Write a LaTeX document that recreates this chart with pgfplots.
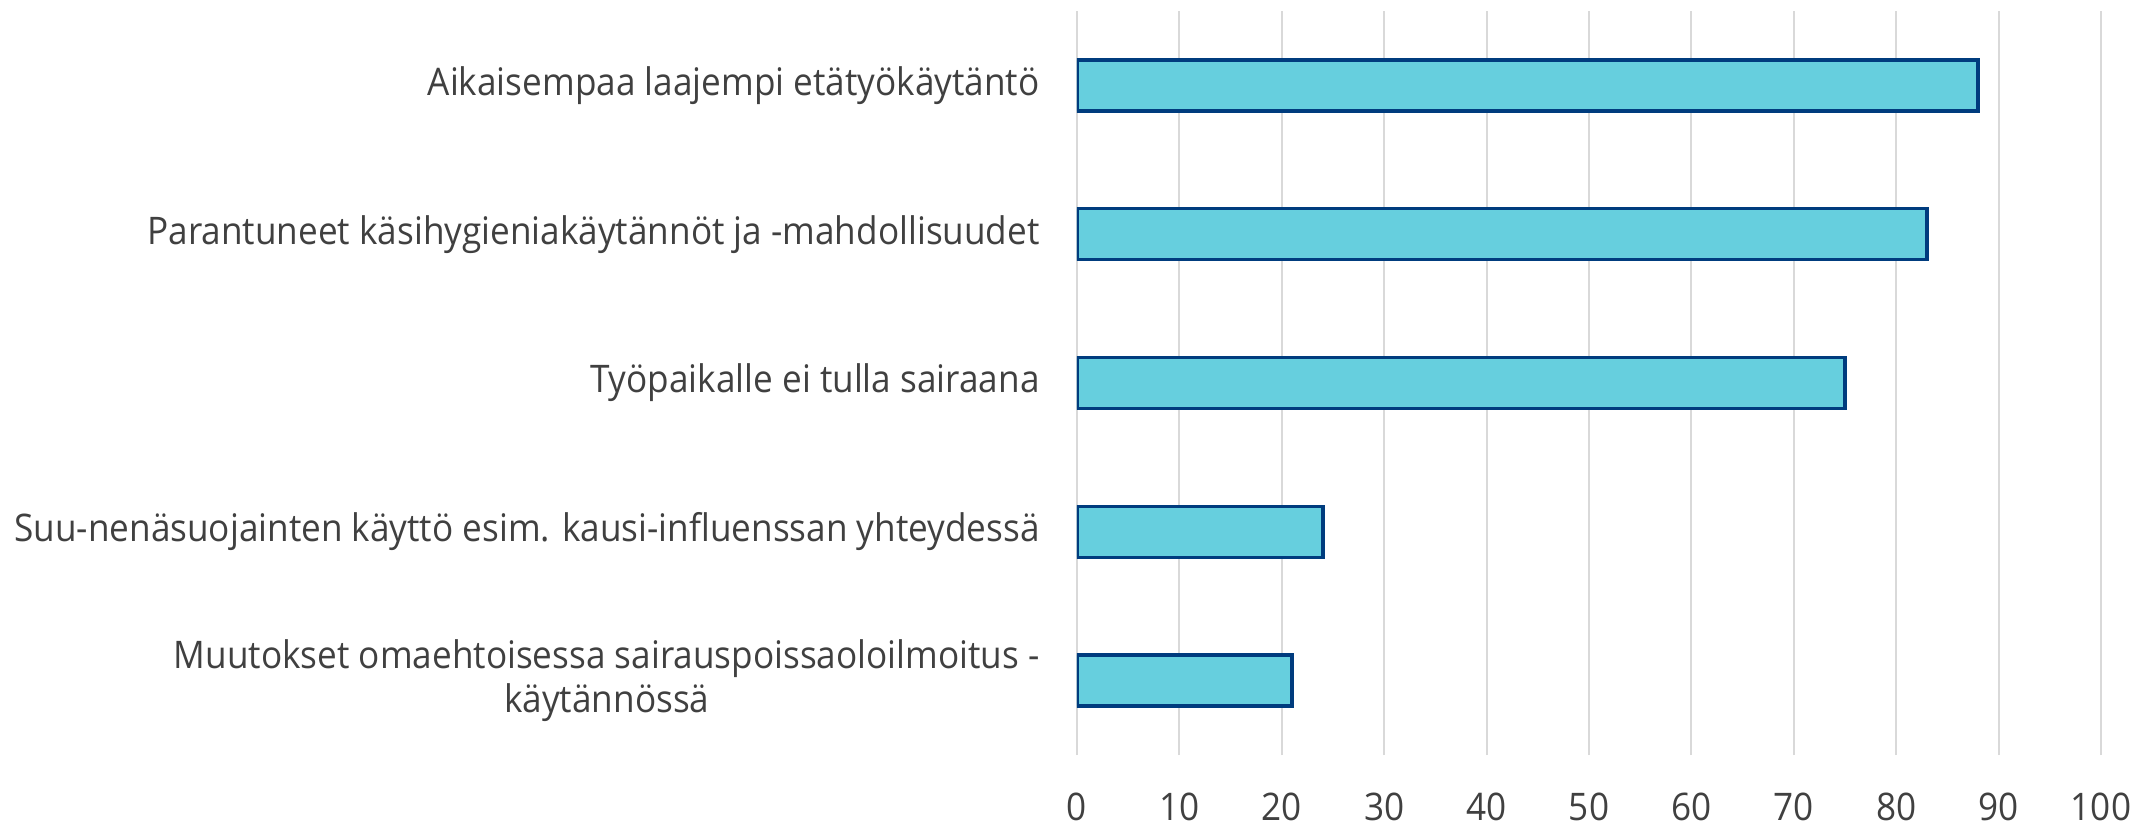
\documentclass[border=0pt]{standalone}
\usepackage{pgfplots}
\pgfplotsset{compat=1.18}
\usepackage{fontspec}
\setmainfont{Open Sans}[FakeStretch=0.925]
\definecolor{barfill}{HTML}{66CFDE}
\definecolor{baredge}{HTML}{003C7E}
\definecolor{gridc}{HTML}{D9D9D9}
\definecolor{txt}{HTML}{404040}
\begin{document}
\begin{tikzpicture}
\useasboundingbox (-538.5pt,-35.5pt) rectangle (537pt,377.5pt);
\begin{axis}[
 at={(0,0)}, anchor=south west,
 scale only axis, width=512pt, height=372pt,
 xmin=0, xmax=100, ymin=-0.5, ymax=4.5,
 xtick={0,10,...,100}, ytick={0,1,2,3,4},
 yticklabels={{Muutokset omaehtoisessa sairauspoissaoloilmoitus -\\käytännössä},
   {Suu-nenäsuojainten käyttö esim. kausi-influenssan yhteydessä},
   {Työpaikalle ei tulla sairaana},
   {Parantuneet käsihygieniakäytännöt ja -mahdollisuudet},
   {Aikaisempaa laajempi etätyökäytäntö}},
 xmajorgrids, major grid style={gridc, line width=1pt},
 axis line style={draw=none}, major tick length=0pt, tick style={draw=none},
 tick label style={font=\fontsize{19}{22}\selectfont, text=txt},
 /pgf/number format/assume math mode=true,
 xticklabel style={anchor=base, yshift=-32.5pt, inner sep=0pt},
 yticklabel style={anchor=east, align=center, xshift=-18.5pt, inner sep=0pt},
]
\addplot[xbar, bar width=25.5pt, fill=barfill, draw=baredge, line width=1.75pt]
 coordinates {(21,0) (24,1) (75,2) (83,3) (88,4)};
\end{axis}
\end{tikzpicture}
\end{document}
